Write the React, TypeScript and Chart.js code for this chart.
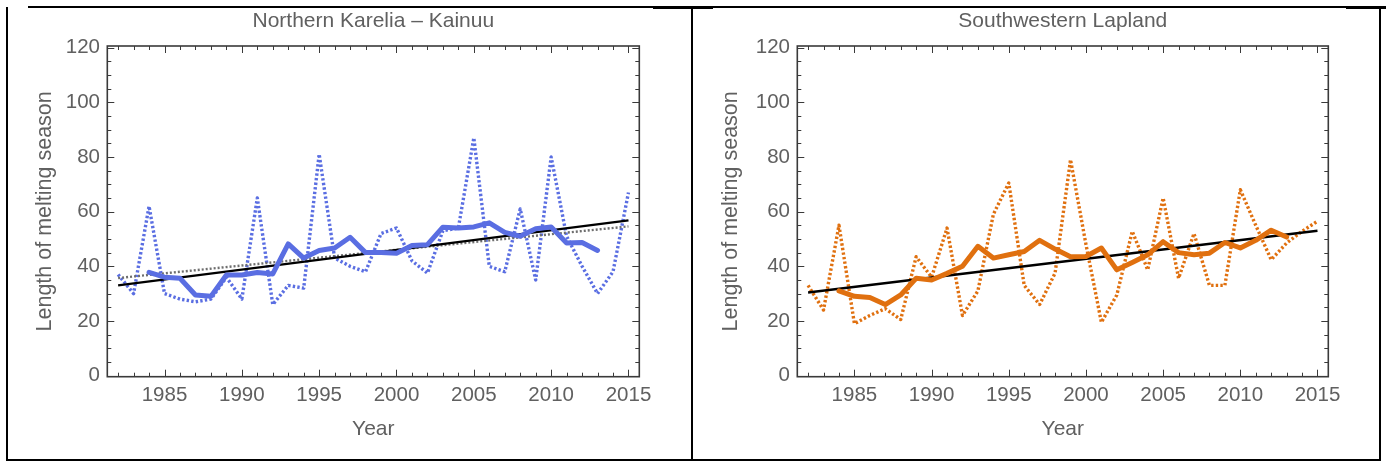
import React, { useEffect, useRef } from "react";
import { Chart, registerables } from "chart.js";

Chart.register(...registerables);

// ---- Data ----
const years = [
  1982, 1983, 1984, 1985, 1986, 1987, 1988, 1989, 1990, 1991, 1992, 1993,
  1994, 1995, 1996, 1997, 1998, 1999, 2000, 2001, 2002, 2003, 2004, 2005,
  2006, 2007, 2008, 2009, 2010, 2011, 2012, 2013, 2014, 2015,
];
const movingYears = [
  1984, 1985, 1986, 1987, 1988, 1989, 1990, 1991, 1992, 1993, 1994, 1995,
  1996, 1997, 1998, 1999, 2000, 2001, 2002, 2003, 2004, 2005, 2006, 2007,
  2008, 2009, 2010, 2011, 2012, 2013,
];
const trendYears = [1982, 2015];

// Northern Karelia – Kainuu
const nkAnnual = [
  37, 30, 62, 30, 28, 27, 28, 36, 28, 65, 26, 33, 32, 81, 43, 40, 38, 52, 54,
  42, 37.5, 53, 54, 87, 40, 38, 61, 35, 80, 51, 40, 30, 38, 67,
];
const nkMoving = [
  37.8, 36, 35.6, 29.5, 29, 36.8, 36.8, 37.7, 37.2, 48.2, 43, 45.8, 46.7, 50.6,
  45, 45, 44.8, 47.6, 47.9, 54.3, 54, 54.4, 55.9, 52.4, 51, 53.7, 54.4, 48.5,
  48.7, 45.8,
];
const nkTrend = [33, 56.8];
const nkTrendDotted = [35.7, 54.6];

// Southwestern Lapland
const slAnnual = [
  33, 24, 55, 19, 22, 24.5, 20.5, 43.5, 36, 54, 22, 31, 59, 70.5, 33, 26, 37.5,
  79, 48, 19.5, 29.5, 52.8, 38.7, 65, 35.6, 52, 33, 33, 68, 55, 42.4, 48.5,
  52.8, 56.5,
];
const slMoving = [
  31, 29, 28.6, 26, 29.5, 35.6, 35, 37.4, 40, 47.3, 43, 44.2, 45.4, 49.5, 46.3,
  43.5, 43.6, 46.7, 38.7, 41.4, 44.2, 49, 45, 44.2, 44.8, 48.7, 46.7, 49.5,
  53.2, 50.7,
];
const slTrend = [30.4, 53];

const xTickValues = [1985, 1990, 1995, 2000, 2005, 2010, 2015];
const yTickValues = [0, 20, 40, 60, 80, 100, 120];

const BLUE = "#5a6ee2";
const ORANGE = "#e0700f";
const TEXT = "#606060";
const FONT = "'Liberation Sans', Arial, sans-serif";

const pts = (xs: number[], ys: number[]) => xs.map((x, i) => ({ x, y: ys[i] }));

const frameTicksPlugin = {
  id: "frameTicks",
  beforeDatasetsDraw(chart: any) {
    const { ctx, chartArea: a, scales } = chart;
    const x = scales.x;
    const y = scales.y;
    ctx.save();
    ctx.strokeStyle = "#3a3a3a";
    ctx.lineWidth = 1;
    ctx.beginPath();
    for (let yr = Math.ceil(x.min); yr <= x.max; yr++) {
      const px = Math.round(x.getPixelForValue(yr)) + 0.5;
      const len = yr % 5 === 0 ? 7 : 4;
      ctx.moveTo(px, a.bottom);
      ctx.lineTo(px, a.bottom - len);
      ctx.moveTo(px, a.top);
      ctx.lineTo(px, a.top + len);
    }
    for (let v = 0; v <= y.max; v += 5) {
      const py = Math.round(y.getPixelForValue(v)) + 0.5;
      const len = v % 20 === 0 ? 7 : 4;
      ctx.moveTo(a.left, py);
      ctx.lineTo(a.left + len, py);
      ctx.moveTo(a.right, py);
      ctx.lineTo(a.right - len, py);
    }
    ctx.stroke();
    ctx.lineWidth = 1.6;
    ctx.strokeRect(a.left, a.top, a.right - a.left, a.bottom - a.top);
    ctx.restore();
  },
};

type PanelProps = {
  left: number;
  width: number;
  areaLeft: number;
  areaRight: number;
  title: string;
  datasets: any[];
};

function Panel({ left, width, areaLeft, areaRight, title, datasets }: PanelProps) {
  const ref = useRef<HTMLCanvasElement | null>(null);
  useEffect(() => {
    if (!ref.current) return;
    const chart = new Chart(ref.current, {
      type: "line",
      data: { datasets },
      plugins: [frameTicksPlugin],
      options: {
        animation: false,
        responsive: false,
        events: [],
        layout: { padding: { left: 0, top: 0, right: width - areaRight, bottom: 13.3 } },
        elements: { point: { radius: 0 }, line: { tension: 0 } },
        plugins: {
          legend: { display: false },
          tooltip: { enabled: false },
          title: {
            display: true,
            text: title,
            color: TEXT,
            fullSize: false,
            font: { family: FONT, size: 21, weight: "normal", lineHeight: 1.2 },
            padding: { top: 1, bottom: 11.8 },
          },
        },
        scales: {
          x: {
            type: "linear",
            min: 1981.3,
            max: 2015.7,
            grid: { display: false, drawTicks: false },
            border: { display: false },
            afterBuildTicks: (s: any) => {
              s.ticks = xTickValues.map((v) => ({ value: v }));
            },
            afterFit: (s: any) => {
              s.height = 70;
            },
            ticks: {
              color: TEXT,
              font: { family: FONT, size: 20.5 },
              padding: 6,
              maxRotation: 0,
              autoSkip: false,
              callback: (v: any) => String(v),
            },
            title: {
              display: true,
              text: "Year",
              color: TEXT,
              font: { family: FONT, size: 21, lineHeight: 1.2 },
              padding: { top: 0, bottom: 5.1 },
            },
          },
          y: {
            type: "linear",
            min: -0.4,
            max: 120.6,
            grid: { display: false, drawTicks: false },
            border: { display: false },
            afterBuildTicks: (s: any) => {
              s.ticks = yTickValues.map((v) => ({ value: v }));
            },
            afterFit: (s: any) => {
              s.width = areaLeft;
            },
            ticks: {
              color: TEXT,
              font: { family: FONT, size: 20.5 },
              padding: 7.3,
              autoSkip: false,
              callback: (v: any) => String(v),
            },
            title: {
              display: true,
              text: "Length of melting season",
              color: TEXT,
              font: { family: FONT, size: 21.5, lineHeight: 1.2 },
              padding: { top: 24, bottom: 0 },
            },
          },
        },
      } as any,
    });
    return () => chart.destroy();
  }, []);
  return (
    <canvas
      ref={ref}
      width={width}
      height={452}
      style={{ position: "absolute", left, top: 8, width, height: 452 }}
    />
  );
}

function makeDatasets(
  color: string,
  annual: number[],
  moving: number[],
  trend: number[],
  trendDotted?: number[]
) {
  const ds: any[] = [
    {
      data: pts(movingYears, moving),
      borderColor: color,
      borderWidth: 5,
      borderJoinStyle: "round",
      borderCapStyle: "round",
    },
    {
      data: pts(trendYears, trend),
      borderColor: "#000000",
      borderWidth: 2.4,
    },
  ];
  if (trendDotted) {
    ds.push({
      data: pts(trendYears, trendDotted),
      borderColor: "#6e6e6e",
      borderWidth: 2.4,
      borderDash: [2, 2],
    });
  }
  ds.push({
    data: pts(years, annual),
    borderColor: color,
    borderWidth: 3.4,
    borderDash: [2.4, 2.2],
    borderJoinStyle: "round",
  });
  return ds;
}

function Line({ x, y, w, h }: { x: number; y: number; w: number; h: number }) {
  return (
    <div style={{ position: "absolute", left: x, top: y, width: w, height: h, background: "#000" }} />
  );
}

export default function App() {
  return (
    <div
      style={{
        position: "absolute",
        left: 0,
        top: 0,
        width: 1386,
        height: 462,
        background: "#fff",
        overflow: "hidden",
      }}
    >
      {/* table borders */}
      <Line x={28} y={6} w={1358} h={1.5} />
      <Line x={653} y={6} w={60} h={2.5} />
      <Line x={1346} y={6} w={40} h={2.5} />
      <Line x={6} y={7} w={2} h={454} />
      <Line x={691} y={7} w={2} h={454} />
      <Line x={1379} y={7} w={2} h={454} />
      <Line x={6} y={459} w={1375} h={2} />
      <Panel
        left={8}
        width={682}
        areaLeft={99.3}
        areaRight={631.3}
        title="Northern Karelia – Kainuu"
        datasets={makeDatasets(BLUE, nkAnnual, nkMoving, nkTrend, nkTrendDotted)}
      />
      <Panel
        left={694}
        width={684}
        areaLeft={103.3}
        areaRight={634.3}
        title="Southwestern Lapland"
        datasets={makeDatasets(ORANGE, slAnnual, slMoving, slTrend)}
      />
    </div>
  );
}
